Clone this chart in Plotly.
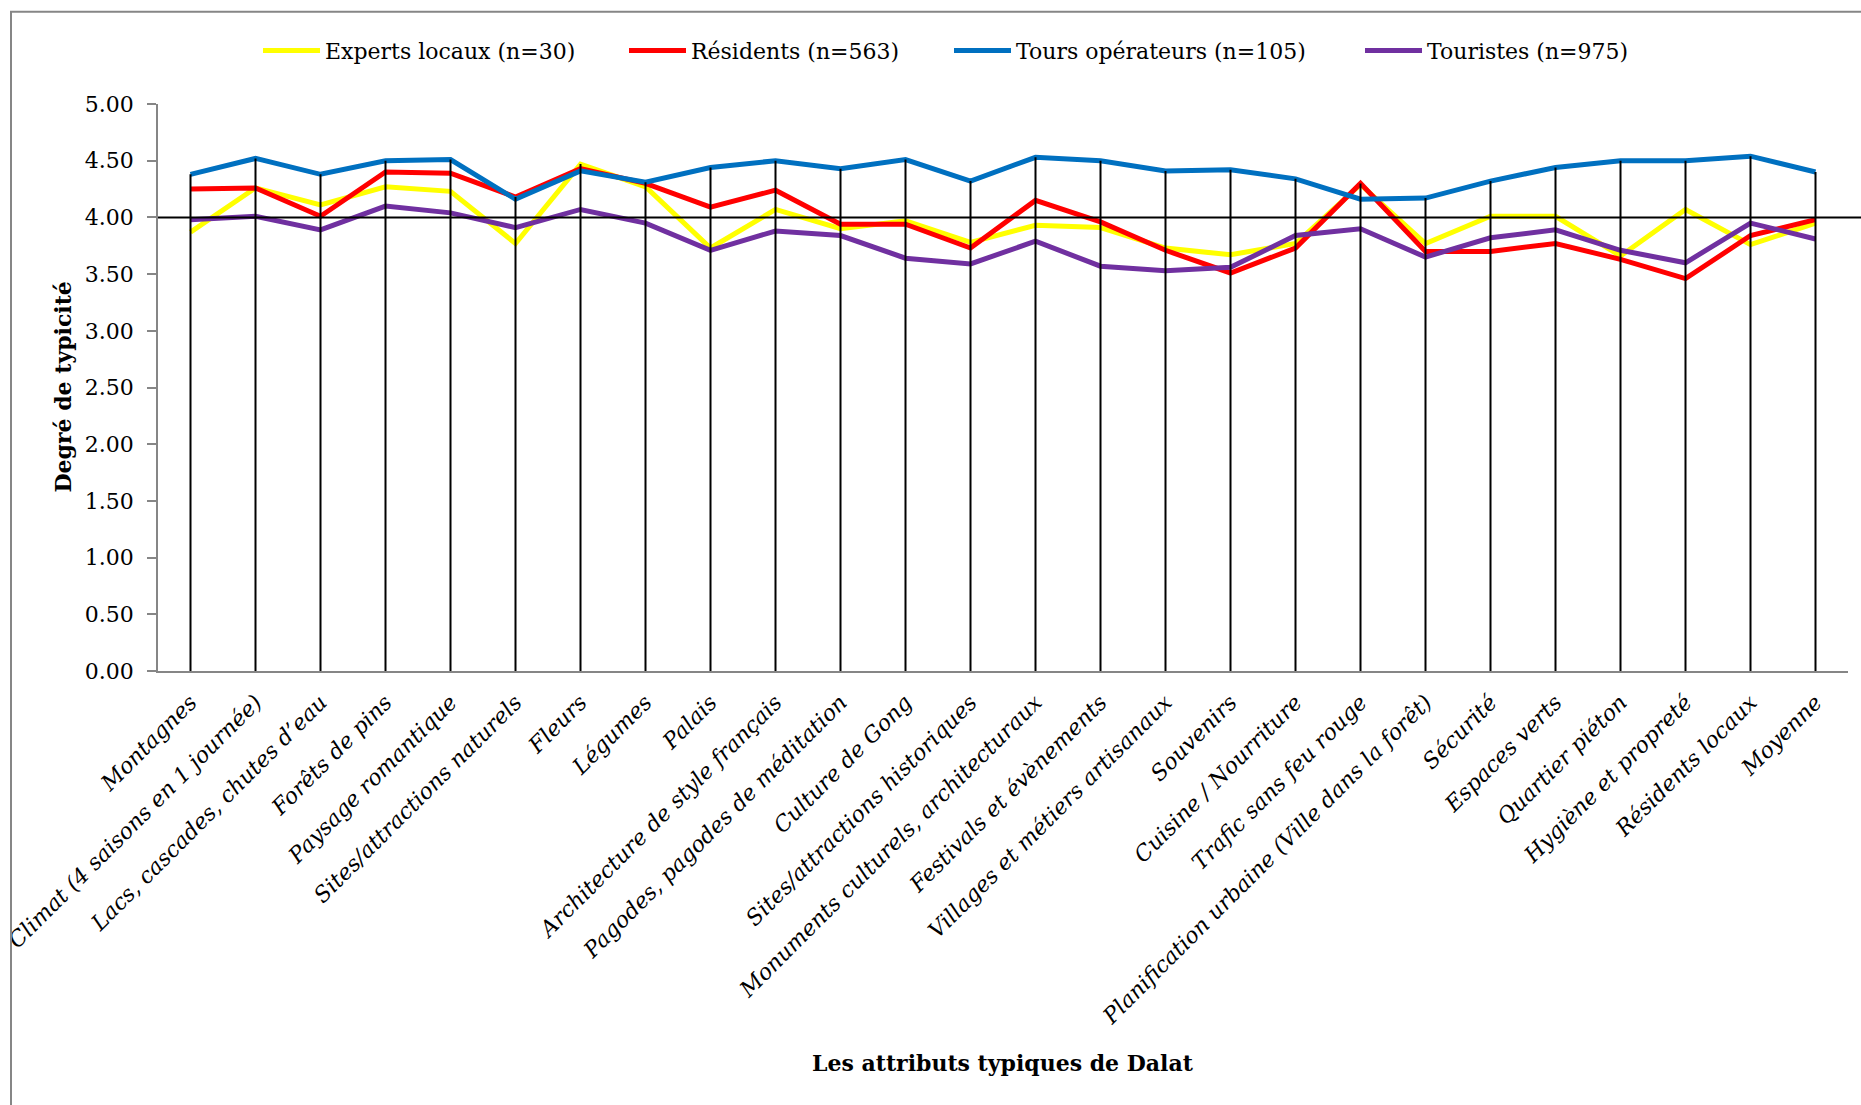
import plotly.graph_objects as go

categories = [
    "Montagnes",
    "Climat (4 saisons en 1 journée)",
    "Lacs, cascades, chutes d’eau",
    "Forêts de pins",
    "Paysage romantique",
    "Sites/attractions naturels",
    "Fleurs",
    "Légumes",
    "Palais",
    "Architecture de style français",
    "Pagodes, pagodes de méditation",
    "Culture de Gong",
    "Sites/attractions historiques",
    "Monuments culturels, architecturaux",
    "Festivals et évènements",
    "Villages et métiers artisanaux",
    "Souvenirs",
    "Cuisine / Nourriture",
    "Trafic sans feu rouge",
    "Planification urbaine (Ville dans la forêt)",
    "Sécurité",
    "Espaces verts",
    "Quartier piéton",
    "Hygiène et propreté",
    "Résidents locaux",
    "Moyenne",
]

experts = [3.87, 4.26, 4.11, 4.27, 4.23, 3.77, 4.47, 4.27, 3.73, 4.07, 3.90, 3.97, 3.78,
           3.93, 3.91, 3.73, 3.67, 3.77, 4.29, 3.77, 4.01, 4.01, 3.66, 4.07, 3.76, 3.95]
residents = [4.25, 4.26, 4.01, 4.40, 4.39, 4.18, 4.43, 4.30, 4.09, 4.24, 3.94, 3.94, 3.73,
             4.15, 3.96, 3.71, 3.51, 3.73, 4.30, 3.70, 3.70, 3.77, 3.63, 3.46, 3.84, 3.98]
tours = [4.38, 4.52, 4.38, 4.50, 4.51, 4.16, 4.41, 4.31, 4.44, 4.50, 4.43, 4.51, 4.32,
         4.53, 4.50, 4.41, 4.42, 4.34, 4.16, 4.17, 4.32, 4.44, 4.50, 4.50, 4.54, 4.40]
touristes = [3.98, 4.01, 3.89, 4.10, 4.04, 3.91, 4.07, 3.95, 3.71, 3.88, 3.84, 3.64, 3.59,
             3.79, 3.57, 3.53, 3.56, 3.84, 3.90, 3.65, 3.82, 3.89, 3.71, 3.60, 3.95, 3.81]

series_names = ["Experts locaux (n=30)", "Résidents (n=563)",
                "Tours opérateurs (n=105)", "Touristes (n=975)"]
series_values = [experts, residents, tours, touristes]
series_colors = ["#FFFF00", "#FF0000", "#0070C0", "#7030A0"]

reference_level = 4.0
y_ticks = [0, 0.5, 1, 1.5, 2, 2.5, 3, 3.5, 4, 4.5, 5]

FONT = "DejaVu Serif"

W, H = 1861, 1105
ml, mr, mt, mb = 158, 13, 104.2, 434.4
pw = W - ml - mr
ph = H - mt - mb


def px_to_paper_x(px):
    return (px - ml) / pw


def px_to_paper_y(py):
    return (H - mb - py) / ph


legend_ids = ["legend", "legend2", "legend3", "legend4"]
legend_left_px = [258, 624, 949, 1360]

fig = go.Figure()

for name, vals, col, lid in zip(series_names, series_values, series_colors, legend_ids):
    fig.add_trace(go.Scatter(
        x=categories, y=vals, mode="lines", name=name, legend=lid,
        line=dict(color=col, width=5),
    ))

# drop lines from the highest point of each category down to the axis
drop_x, drop_y = [], []
for i, c in enumerate(categories):
    top = max(s[i] for s in series_values)
    drop_x += [c, c, None]
    drop_y += [0, top, None]
fig.add_trace(go.Scatter(
    x=drop_x, y=drop_y, mode="lines", showlegend=False, hoverinfo="skip",
    line=dict(color="black", width=2),
))

legend_layouts = {}
for lid, lx in zip(legend_ids, legend_left_px):
    legend_layouts[lid] = dict(
        orientation="h", x=px_to_paper_x(lx), xanchor="left",
        y=px_to_paper_y(51), yanchor="middle",
        font=dict(family=FONT, size=22, color="black"),
        bgcolor="rgba(0,0,0,0)", itemwidth=57,
    )

fig.update_layout(
    width=W, height=H,
    margin=dict(l=ml, r=mr, t=mt, b=mb, autoexpand=False),
    paper_bgcolor="white", plot_bgcolor="white",
    font=dict(family=FONT, color="black", size=22),
    showlegend=True,
    xaxis=dict(
        type="category", range=[-0.5, len(categories) - 0.5],
        showline=True, linecolor="#868686", linewidth=1.5,
        ticks="", showgrid=False, zeroline=False, automargin=False,
        tickangle=-45, ticklabelstandoff=8,
        tickfont=dict(family=FONT, size=22, style="italic", color="black"),
    ),
    yaxis=dict(
        range=[0, 5], tickvals=y_ticks, tickformat=".2f",
        showline=True, linecolor="#868686", linewidth=1.5,
        ticks="outside", ticklen=9, tickcolor="#868686", tickwidth=1.5,
        ticklabelstandoff=9, automargin=False,
        showgrid=False, zeroline=False,
        tickfont=dict(family=FONT, size=22, color="black"),
    ),
    shapes=[
        dict(type="line", xref="paper", yref="y", x0=0, x1=px_to_paper_x(1870),
             y0=reference_level, y1=reference_level,
             line=dict(color="black", width=2)),
        dict(type="rect", xref="paper", yref="paper",
             x0=px_to_paper_x(11), x1=px_to_paper_x(1900),
             y0=px_to_paper_y(1200), y1=px_to_paper_y(12),
             line=dict(color="#868686", width=2), fillcolor="rgba(0,0,0,0)"),
    ],
    annotations=[
        dict(text="<b>Degré de typicité</b>", textangle=-90, showarrow=False,
             xref="paper", yref="paper", x=px_to_paper_x(62), y=0.5,
             xanchor="center", yanchor="middle",
             font=dict(family=FONT, size=22, color="black")),
        dict(text="<b>Les attributs typiques de Dalat</b>", showarrow=False,
             xref="paper", yref="paper", x=0.5, y=px_to_paper_y(1062),
             xanchor="center", yanchor="middle",
             font=dict(family=FONT, size=22, color="black")),
    ],
    **legend_layouts,
)

fig.write_html("out.html", config={"displayModeBar": False},
               post_script="document.body.style.margin='0';")
